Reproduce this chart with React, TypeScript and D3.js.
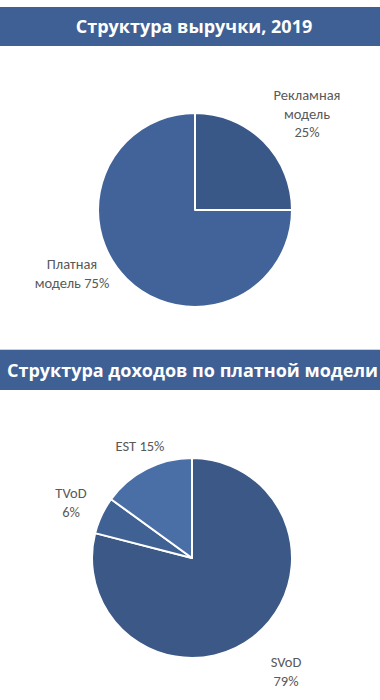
import React from "react";
import * as d3 from "d3";

const revenueCategories = ["Рекламная модель", "Платная модель"];
const revenueValues = [25, 75];
const revenueLabels = [["Рекламная", "модель", "25%"], ["Платная", "модель 75%"]];
const revenueColors = ["#3a5887", "#42639a"];

const paidCategories = ["SVoD", "TVoD", "EST"];
const paidValues = [79, 6, 15];
const paidLabels = [["SVoD", "79%"], ["TVoD", "6%"], ["EST 15%"]];
const paidColors = ["#3b5886", "#3f6193", "#4a6ea6"];

const title1 = "Структура выручки, 2019";
const title2 = "Структура доходов по платной модели";

const FONT = "Calibri, Carlito, 'Open Sans', sans-serif";

function Pie({ cx, cy, r, values, colors, labels, labelPos }: any) {
  const pie = d3.pie<number>().sort(null).value((d) => d);
  const arc = d3.arc<d3.PieArcDatum<number>>().innerRadius(0).outerRadius(r);
  const arcs = pie(values);
  return (
    <g>
      <g transform={`translate(${cx},${cy})`}>
        {arcs.map((a, i) => (
          <path key={i} d={arc(a) || ""} fill={colors[i]} stroke="#ffffff" strokeWidth={2} strokeLinejoin="round" />
        ))}
      </g>
      {labels.map((lines: string[], i: number) => (
        <text key={i} x={labelPos[i][0]} y={labelPos[i][1]} textAnchor="middle" fontFamily={FONT} fontSize={14.5} fill="#595959">
          {lines.map((l, j) => (
            <tspan key={j} x={labelPos[i][0]} dy={j === 0 ? 0 : 18.5}>{l}</tspan>
          ))}
        </text>
      ))}
    </g>
  );
}

export default function App() {
  return (
    <svg width={380} height={700} style={{ position: "absolute", left: 0, top: 0, background: "#fff" }}>
      <rect x={0} y={7} width={380} height={39} fill="#3e6094" />
      <text x={194} y={33} textAnchor="middle" fontFamily="'Open Sans', sans-serif" fontWeight="bold" fontSize={18} fill="#ffffff">{title1}</text>

      <Pie cx={195} cy={210} r={97} values={revenueValues} colors={revenueColors} labels={revenueLabels}
        labelPos={[[307, 100], [72, 269]]} />

      <line x1={0} x2={380} y1={349.5} y2={349.5} stroke="#d0d0d0" strokeWidth={1} />
      <rect x={0} y={350} width={380} height={40} fill="#3e6094" />
      <text x={7} y={377} textAnchor="start" fontFamily="'Open Sans', sans-serif" fontWeight="bold" fontSize={18} fill="#ffffff">{title2}</text>

      <Pie cx={192} cy={558} r={100} values={paidValues} colors={paidColors} labels={paidLabels}
        labelPos={[[286, 667], [71, 498], [140, 451]]} />
    </svg>
  );
}
